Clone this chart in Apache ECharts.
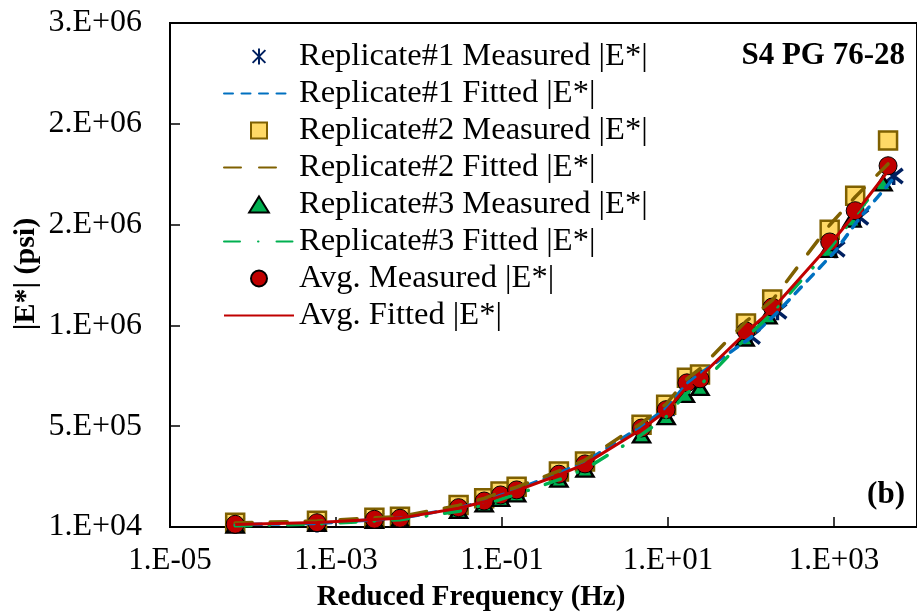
<!DOCTYPE html>
<html>
<head>
<meta charset="utf-8">
<script src="https://cdn.jsdelivr.net/npm/echarts@6/dist/echarts.min.js"></script>
<style>
  html, body { margin: 0; padding: 0; background: #ffffff; }
  #chart { width: 917px; height: 616px; }
</style>
</head>
<body>
<div id="chart"></div>
<script>
// Dynamic modulus master curves, S4 PG 76-28
const FONT = "'Liberation Serif', 'Times New Roman', Times, serif";

// Reduced frequency (Hz)
const freqRep1 = [6.1e-5, 5.9e-4, 2.9e-3, 5.9e-3, 0.030, 0.061, 0.096, 0.150, 0.485, 1.0, 4.8, 9.5, 16.9, 24.3, 99.7, 208, 1045, 2014, 5236];
const freqRep2 = [6.1e-5, 5.9e-4, 2.9e-3, 5.9e-3, 0.030, 0.061, 0.096, 0.150, 0.485, 1.0, 4.8, 9.5, 16.9, 24.3, 87, 180, 887, 1800, 4480];
const freqRep3 = [6.1e-5, 5.9e-4, 2.9e-3, 5.9e-3, 0.030, 0.061, 0.096, 0.150, 0.485, 1.0, 4.8, 9.5, 16.2, 24.3, 85, 160, 850, 1650, 3900];
const freqAvg  = [6.1e-5, 5.9e-4, 2.9e-3, 5.9e-3, 0.030, 0.061, 0.096, 0.150, 0.485, 1.0, 4.8, 9.5, 16.9, 24.3, 87, 180, 887, 1800, 4480];

// Measured |E*| (psi)
const measRep1 = [22000, 27000, 47000, 52000, 108000, 141000, 170000, 198000, 284000, 338000, 518000, 600000, 745000, 765000, 955000, 1080000, 1388000, 1547000, 1751000];
const measRep2 = [31400, 41300, 56300, 61200, 119000, 153000, 186000, 210000, 285000, 335000, 517000, 617000, 750000, 766000, 1020000, 1139000, 1484000, 1653000, 1927000];
const measRep3 = [17000, 26000, 41000, 46000, 90000, 122000, 150000, 172000, 245000, 295000, 465000, 555000, 665000, 700000, 945000, 1055000, 1385000, 1535000, 1715000];
const measAvg  = [23400, 31400, 48300, 53300, 106000, 139000, 169000, 194000, 272000, 323000, 501000, 592000, 725000, 745000, 982000, 1101000, 1424000, 1579000, 1802000];

// Fitted |E*| (psi)
const fitRep1 = [22000, 28000, 46000, 53000, 105000, 138000, 167000, 195000, 278000, 332000, 510000, 598000, 722000, 770000, 950000, 1075000, 1380000, 1540000, 1740000];
const fitRep2 = [30000, 40000, 56000, 62000, 117000, 152000, 182000, 208000, 288000, 342000, 525000, 620000, 745000, 795000, 1030000, 1134000, 1508000, 1647000, 1811000];
const fitRep3 = [16000, 25000, 40000, 46000, 88000, 120000, 147000, 172000, 245000, 297000, 468000, 556000, 670000, 712000, 945000, 1050000, 1380000, 1535000, 1730000];
const fitAvg  = [22000, 32000, 47000, 54000, 103000, 135000, 163000, 190000, 268000, 322000, 495000, 585000, 705000, 755000, 975000, 1090000, 1410000, 1565000, 1775000];

const seriesNames = [
  'Replicate#1 Measured |E*|', 'Replicate#1 Fitted |E*|',
  'Replicate#2 Measured |E*|', 'Replicate#2 Fitted |E*|',
  'Replicate#3 Measured |E*|', 'Replicate#3 Fitted |E*|',
  'Avg. Measured |E*|', 'Avg. Fitted |E*|'
];

const pairs = (xs, ys) => xs.map((x, i) => [x, ys[i]]);

// Excel-style scientific labels, e.g. 1.E+04
function sciLabel(v) {
  const parts = Number(v).toExponential(0).split('e');
  const exp = parseInt(parts[1], 10);
  const sign = exp < 0 ? '-' : '+';
  const mag = String(Math.abs(exp)).padStart(2, '0');
  return parts[0] + '.E' + sign + mag;
}

// marker shapes as paths so the legend keeps their proportions
const ASTERISK = 'path://M2,2L18,18M18,2L2,18M10,0L10,20';
const SQUARE = 'path://M0,0L10,0L10,10L0,10Z';
const TRIANGLE = 'path://M8,0L16,13L0,13Z';
const NO_SYMBOL = { color: 'rgba(0,0,0,0)', borderWidth: 0 };

const chart = echarts.init(document.getElementById('chart'));
chart.setOption({
  animation: false,
  backgroundColor: '#ffffff',
  grid: {
    left: 170, top: 23, right: -10, bottom: 89,
    show: true, borderColor: '#000', borderWidth: 2, backgroundColor: 'transparent'
  },
  legend: {
    orient: 'vertical',
    left: 223, top: 40,
    padding: 0,
    itemWidth: 70, itemHeight: 16, itemGap: 4,
    selectedMode: false,
    data: seriesNames,
    textStyle: { fontFamily: FONT, fontSize: 32.5, color: '#000', lineHeight: 31 }
  },
  xAxis: {
    type: 'log', logBase: 10,
    min: 1e-5, max: 1e4,
    interval: 2,
    axisLine: { show: true, lineStyle: { color: '#000', width: 2 } },
    axisTick: { show: true, inside: true, length: 10, lineStyle: { color: '#000', width: 1.5 } },
    minorTick: { show: false },
    splitLine: { show: false },
    axisLabel: {
      margin: 18, fontFamily: FONT, fontSize: 31, color: '#000',
      formatter: v => sciLabel(v)
    }
  },
  yAxis: {
    type: 'value',
    min: 1e4, max: 2.51e6, interval: 5e5,
    axisLine: { show: true, lineStyle: { color: '#000', width: 2 } },
    axisTick: { show: true, inside: true, length: 10, lineStyle: { color: '#000', width: 1.5 } },
    splitLine: { show: false },
    axisLabel: {
      margin: 28, fontFamily: FONT, fontSize: 32, color: '#000',
      formatter: v => sciLabel(v)
    }
  },
  graphic: [
    { type: 'text', x: 905, y: 56, style: { text: 'S4 PG 76-28', font: 'bold 31px ' + FONT, fill: '#000', textAlign: 'right', textVerticalAlign: 'middle', align: 'right', verticalAlign: 'middle' } },
    { type: 'text', x: 905, y: 495, style: { text: '(b)', font: 'bold 31px ' + FONT, fill: '#000', textAlign: 'right', textVerticalAlign: 'middle', align: 'right', verticalAlign: 'middle' } },
    { type: 'text', x: 471, y: 598, style: { text: 'Reduced Frequency (Hz)', font: 'bold 29px ' + FONT, fill: '#000', textAlign: 'center', textVerticalAlign: 'middle', align: 'center', verticalAlign: 'middle' } },
    { type: 'text', x: 26, y: 274, rotation: Math.PI / 2, style: { text: '|E*| (psi)', font: 'bold 30px ' + FONT, fill: '#000', textAlign: 'center', textVerticalAlign: 'middle', align: 'center', verticalAlign: 'middle' } }
  ],
  series: [
    {
      name: seriesNames[0], type: 'scatter', data: pairs(freqRep1, measRep1),
      symbol: ASTERISK, symbolSize: 18,
      itemStyle: { color: 'rgba(0,0,0,0)', borderColor: '#002060', borderWidth: 3.5, opacity: 1 }
    },
    {
      name: seriesNames[1], type: 'line', data: pairs(freqRep1, fitRep1),
      symbol: 'none', showSymbol: false,
      lineStyle: { color: '#0070C0', width: 3.5, type: [9, 8.5], cap: 'round' },
      itemStyle: NO_SYMBOL
    },
    {
      name: seriesNames[2], type: 'scatter', data: pairs(freqRep2, measRep2),
      symbol: SQUARE, symbolSize: 18,
      itemStyle: { color: '#FFD966', borderColor: '#7F6000', borderWidth: 2.5, opacity: 1 }
    },
    {
      name: seriesNames[3], type: 'line', data: pairs(freqRep2, fitRep2),
      symbol: 'none', showSymbol: false,
      lineStyle: { color: '#7F6000', width: 3.5, type: [17, 18], cap: 'round' },
      itemStyle: NO_SYMBOL
    },
    {
      name: seriesNames[4], type: 'scatter', data: pairs(freqRep3, measRep3),
      symbol: TRIANGLE, symbolSize: [17, 14],
      itemStyle: { color: '#00B050', borderColor: '#000', borderWidth: 2.5, opacity: 1 }
    },
    {
      name: seriesNames[5], type: 'line', data: pairs(freqRep3, fitRep3),
      symbol: 'none', showSymbol: false,
      lineStyle: { color: '#00B050', width: 3.5, type: [16, 18, 0.5, 18], cap: 'round' },
      itemStyle: NO_SYMBOL
    },
    {
      name: seriesNames[6], type: 'scatter', data: pairs(freqAvg, measAvg),
      symbol: 'circle', symbolSize: 18,
      itemStyle: { color: '#C00000', borderColor: '#000', borderWidth: 1, opacity: 1 }
    },
    {
      name: seriesNames[7], type: 'line', data: pairs(freqAvg, fitAvg),
      symbol: 'none', showSymbol: false,
      lineStyle: { color: '#C00000', width: 3 },
      itemStyle: NO_SYMBOL
    }
  ]
});
</script>
</body>
</html>
